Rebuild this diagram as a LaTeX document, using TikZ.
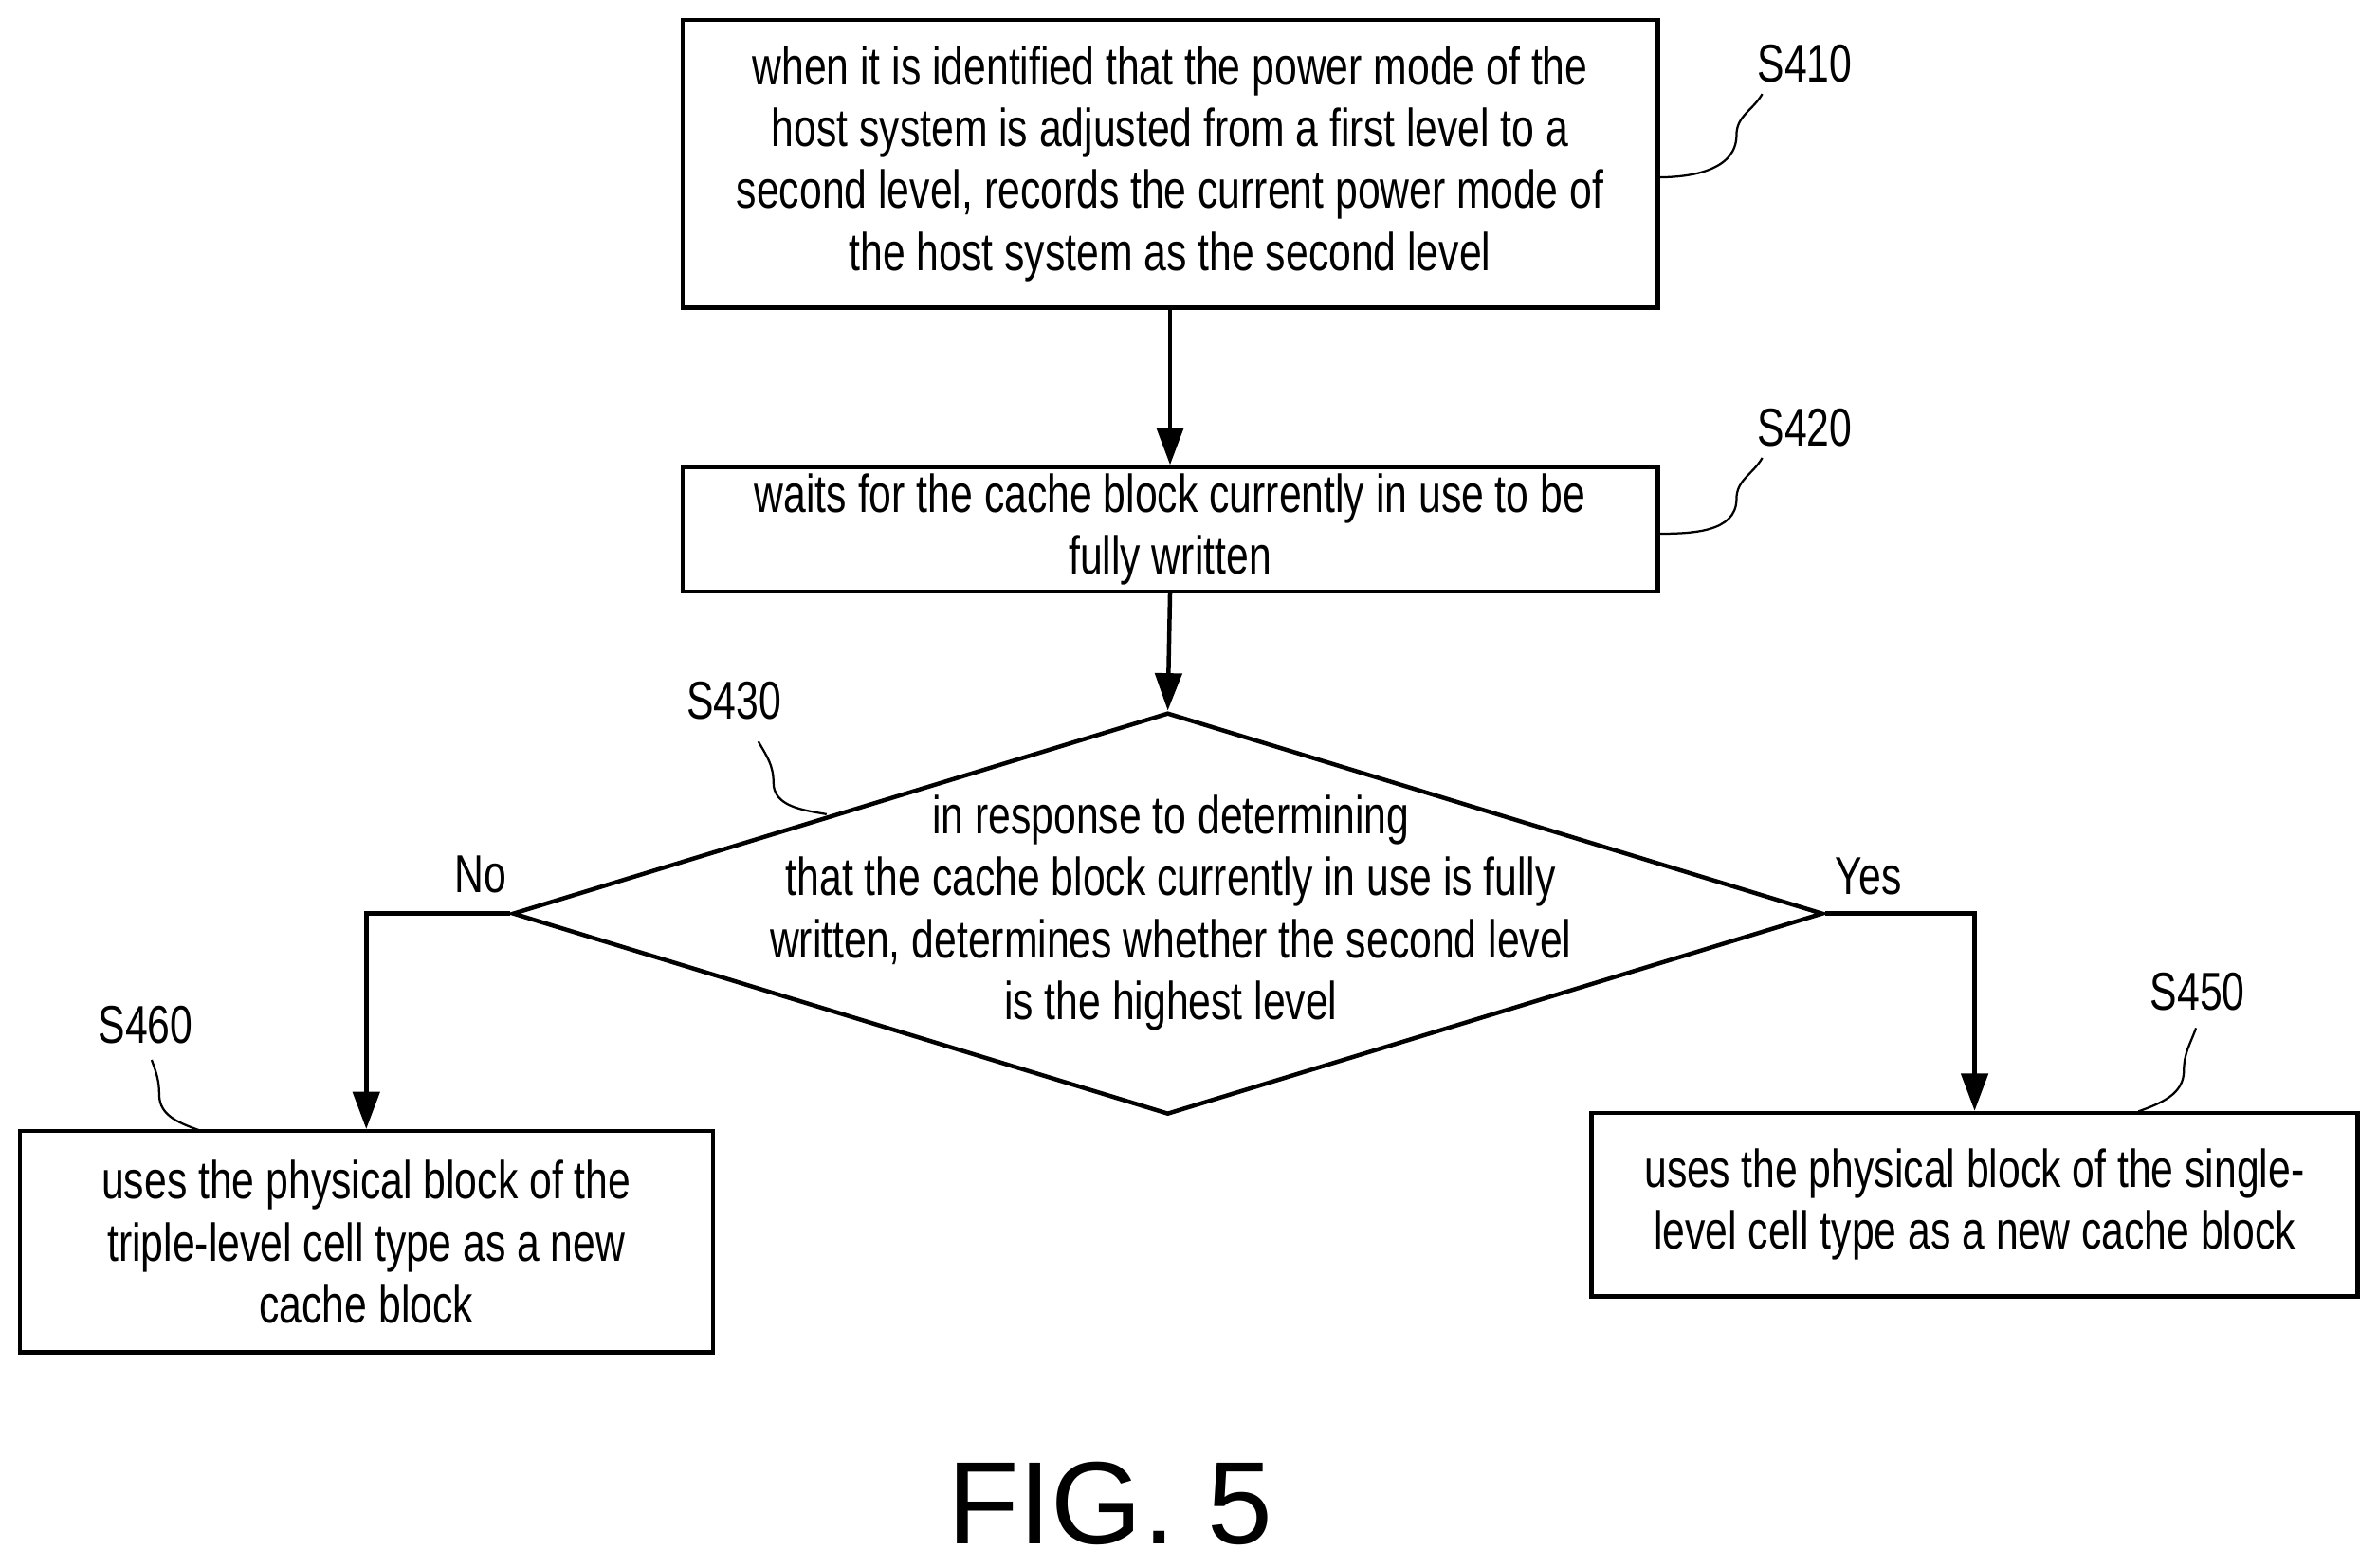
\documentclass[tikz,border=0pt]{standalone}
\usepackage{fontspec}
\setmainfont{Liberation Sans}[FakeStretch=0.76]
\newfontfamily\figfont{Liberation Sans}
\usetikzlibrary{shapes.geometric,arrows.meta}

\tikzset{
    box/.style={draw,thick,align=center,font=\fontsize{10pt}{11.6pt}\selectfont,inner sep=0pt},
    flow/.style={thick,-{Triangle[length=7pt,width=5pt]}},
    tag/.style={font=\fontsize{10pt}{12pt}\selectfont},
    wave/.style={thin}
}

\begin{document}
\begin{tikzpicture}
    \useasboundingbox (0,0) rectangle (15.68,10.34);
    % boxes
    \node[box,minimum width=6.43cm,minimum height=1.9cm] (s410) at (7.715,9.26)
        {when it is identified that the power mode of the\\host system is adjusted from a first level to a\\second level, records the current power mode of\\the host system as the second level};
    \node[box,minimum width=6.43cm,minimum height=0.82cm] (s420) at (7.715,6.85)
        {waits for the cache block currently in use to be\\fully written};
    \node[draw,thick,diamond,aspect=3.26,minimum width=8.64cm,minimum height=2.65cm,inner sep=0pt] (s430) at (7.70,4.315) {};
    \node[align=center,font=\fontsize{10pt}{11.6pt}\selectfont] (t430) at (7.72,4.32)
        {in response to determining\\that the cache block currently in use is fully\\written, determines whether the second level\\is the highest level};
    \node[box,minimum width=4.57cm,minimum height=1.46cm] (s460) at (2.415,2.15)
        {uses the physical block of the\\triple-level cell type as a new\\cache block};
    \node[box,minimum width=5.05cm,minimum height=1.21cm] (s450) at (13.02,2.395)
        {uses the physical block of the single-\\level cell type as a new cache block};
    % connectors
    \draw[flow] (s410.south) -- (s420.north);
    \draw[flow] (s420.south) -- (s430.north);
    \draw[flow] (s430.west) -| (s460.north);
    \draw[flow] (s430.east) -| (s450.north);
    \node[tag] (no) at (3.17,4.57) {No};
    \node[tag] (yes) at (12.32,4.56) {Yes};
    % step labels
    \node[tag] (l410) at (11.90,9.92) {S410};
    \node[tag] (l420) at (11.90,7.52) {S420};
    \node[tag] (l430) at (4.84,5.72) {S430};
    \node[tag] (l460) at (0.96,3.58) {S460};
    \node[tag] (l450) at (14.49,3.80) {S450};
    \draw[wave] (10.93,9.17) to[out=0,in=-90] (11.45,9.45) to[out=90,in=-120] (11.62,9.72);
    \draw[wave] (10.93,6.82) to[out=0,in=-90] (11.45,7.05) to[out=90,in=-120] (11.62,7.32);
    \draw[wave] (5.45,4.97) to[out=170,in=-90] (5.10,5.18) to[out=90,in=-60] (5.00,5.45);
    \draw[wave] (1.33,2.88) to[out=160,in=-90] (1.05,3.12) to[out=90,in=-70] (1.00,3.35);
    \draw[wave] (14.10,3.01) to[out=20,in=-90] (14.40,3.28) to[out=90,in=-110] (14.48,3.56);
    % caption
    \node[font=\figfont\fontsize{22pt}{26pt}\selectfont,anchor=base] (fig) at (7.32,0.16) {FIG. 5};
\end{tikzpicture}
\end{document}
